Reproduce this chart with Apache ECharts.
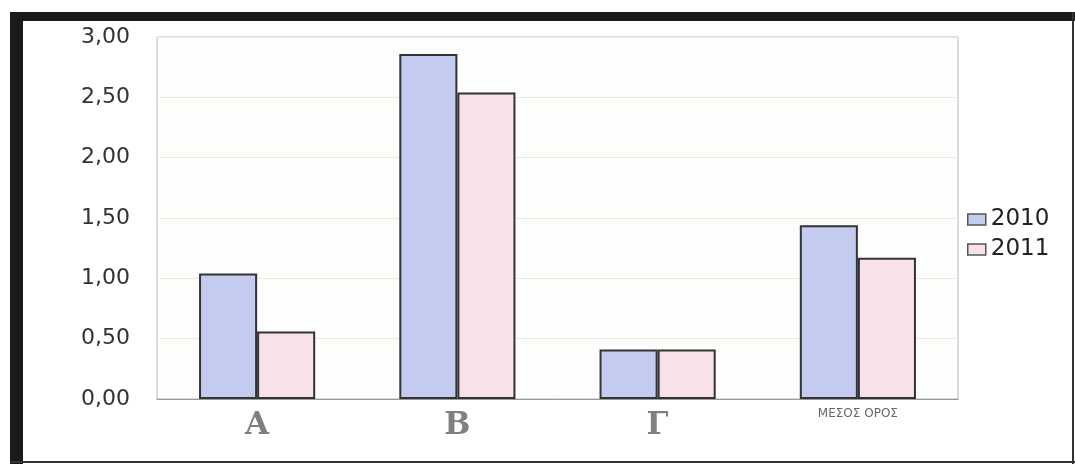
<!DOCTYPE html>
<html>
<head>
<meta charset="utf-8">
<script src="https://cdn.jsdelivr.net/npm/echarts@6/dist/echarts.min.js"></script>
<style>
  html, body { margin: 0; padding: 0; background: #ffffff; }
  #chart { width: 1075px; height: 464px; }
</style>
</head>
<body>
<div id="chart"></div>
<script>
// Categories and yearly values
const categories = ['A', 'B', 'Γ', 'ΜΕΣΟΣ ΟΡΟΣ'];
const seriesNames = ['2010', '2011'];
const values2010 = [1.04, 2.86, 0.41, 1.44];
const values2011 = [0.56, 2.54, 0.41, 1.17];
const yTickLabels = ['0,00', '0,50', '1,00', '1,50', '2,00', '2,50', '3,00'];

const chart = echarts.init(document.getElementById('chart'), null, { renderer: 'canvas' });

const option = {
  backgroundColor: '#ffffff',
  animation: false,
  graphic: [
    // dark page frame
    { type: 'rect', left: 10, top: 12, shape: { width: 13, height: 452 }, style: { fill: '#1a1a1a' }, z: 100 },
    { type: 'rect', left: 10, top: 12, shape: { width: 1065, height: 9 }, style: { fill: '#1a1a1a' }, z: 100 },
    { type: 'rect', left: 1072, top: 12, shape: { width: 2, height: 452 }, style: { fill: '#333333' }, z: 100 },
    { type: 'rect', left: 10, top: 461, shape: { width: 1065, height: 2 }, style: { fill: '#333333' }, z: 100 }
  ],
  grid: {
    left: 157, top: 37, right: 117, bottom: 65,
    show: true,
    backgroundColor: '#fdfdfb',
    borderColor: '#b8b8b8',
    borderWidth: 1
  },
  legend: {
    orient: 'vertical',
    left: 962,
    top: 203,
    icon: 'rect',
    itemWidth: 18,
    itemHeight: 11,
    itemGap: 7,
    data: seriesNames,
    itemStyle: { borderWidth: 1.5, borderColor: '#555555' },
    textStyle: { fontFamily: 'DejaVu Sans, sans-serif', fontSize: 23, color: '#222222' }
  },
  xAxis: {
    type: 'category',
    data: categories,
    axisLine: { show: true, lineStyle: { color: '#999999', width: 1 } },
    axisTick: { show: false },
    axisLabel: {
      margin: 11,
      verticalAlign: 'top',
      formatter: function (v) {
        return v.length > 2 ? '{small|' + v + '}' : '{big|' + v + '}';
      },
      rich: {
        big: { fontFamily: 'DejaVu Serif, serif', fontSize: 31, fontWeight: 'bold', color: '#808080' },
        small: { fontFamily: 'DejaVu Sans, sans-serif', fontSize: 12, color: '#666666', padding: [-2, 0, 0, 0] }
      }
    }
  },
  yAxis: {
    type: 'value',
    min: 0,
    max: 3,
    interval: 0.5,
    axisLine: { show: false },
    axisTick: { show: false },
    splitLine: { show: true, lineStyle: { color: '#e8ebe2', width: 1 } },
    axisLabel: {
      margin: 27,
      fontFamily: 'DejaVu Sans, sans-serif',
      fontSize: 22,
      color: '#333333',
      formatter: function (v) { return yTickLabels[Math.round(v / 0.5)]; }
    }
  },
  series: [
    {
      name: seriesNames[0],
      type: 'bar',
      data: values2010,
      barGap: '0%',
      barCategoryGap: '42%',
      itemStyle: { color: '#c3cbf0', borderColor: '#333333', borderWidth: 2 }
    },
    {
      name: seriesNames[1],
      type: 'bar',
      data: values2011,
      itemStyle: { color: '#f8e2e8', borderColor: '#333333', borderWidth: 2 }
    }
  ]
};

chart.setOption(option);
</script>
</body>
</html>
